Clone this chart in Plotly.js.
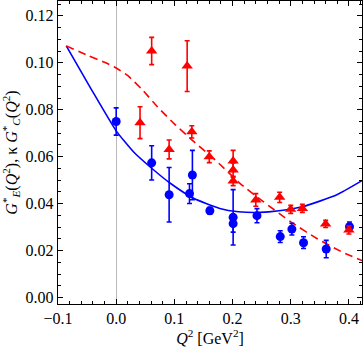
<!DOCTYPE html>
<html><head><meta charset="utf-8">
<script src="https://cdn.plot.ly/plotly-3.0.1.min.js"></script>
<style>html,body{margin:0;padding:0;background:#fff}#chart{width:364px;height:354px}</style>
</head><body><div id="chart"></div>
<script>
// Data
const blueX = [0.0, 0.061, 0.091, 0.126, 0.131, 0.161, 0.201, 0.201, 0.242, 0.282, 0.302, 0.322, 0.361, 0.401];
const blueY = [0.0750, 0.0574, 0.0438, 0.0443, 0.0522, 0.0370, 0.0342, 0.0315, 0.0349, 0.0260, 0.0292, 0.0234, 0.0207, 0.0302];
const blueErr = [0.0058, 0.0073, 0.0116, 0.0042, 0.0105, 0.0015, 0.0118, 0.0036, 0.0030, 0.0025, 0.0025, 0.0025, 0.0037, 0.0020];

const redX = [0.041, 0.061, 0.122, 0.091, 0.130, 0.160, 0.201, 0.201, 0.201, 0.240, 0.281, 0.300, 0.320, 0.360, 0.400];
const redY = [0.0745, 0.1050, 0.0986, 0.0631, 0.0706, 0.0600, 0.0582, 0.0543, 0.0497, 0.0416, 0.0427, 0.0376, 0.0380, 0.0314, 0.0288];
const redErr = [0.0068, 0.0058, 0.0108, 0.0040, 0.0026, 0.0025, 0.0045, 0.0030, 0.0020, 0.0027, 0.0022, 0.0017, 0.0017, 0.0015, 0.0017];

// Model curves
const blueCurveX = [-0.0858, -0.043, 0.0, 0.03, 0.061, 0.093, 0.133, 0.178, 0.21, 0.247, 0.28, 0.3213, 0.3785, 0.4225];
const blueCurveY = [0.1072, 0.0888, 0.0710, 0.0620, 0.0551, 0.0487, 0.0423, 0.0380, 0.0366, 0.0363, 0.0370, 0.0388, 0.0437, 0.0498];
const redCurveX = [-0.0858, -0.0475, -0.02, 0.0, 0.02, 0.045, 0.07, 0.1, 0.13, 0.173, 0.2127, 0.2527, 0.30, 0.344, 0.39, 0.4225];
const redCurveY = [0.1072, 0.1030, 0.1002, 0.0978, 0.0945, 0.0885, 0.0815, 0.0740, 0.0672, 0.0580, 0.0487, 0.0409, 0.0323, 0.0253, 0.0192, 0.0158];

const BLUE = 'rgb(0,0,255)', RED = 'rgb(255,0,0)';
const FAMILY = 'Liberation Serif';
const tickFont = {family: FAMILY, size: 16, color: '#000'};
const titleFont = {family: FAMILY, size: 16, color: '#000'};

const traces = [
  {x: blueCurveX, y: blueCurveY, mode: 'lines', line: {color: BLUE, width: 1.6, shape: 'spline', smoothing: 0.5}, hoverinfo: 'skip'},
  {x: redCurveX, y: redCurveY, mode: 'lines', line: {color: RED, width: 1.6, dash: '8px,5px', shape: 'spline', smoothing: 0.4}, hoverinfo: 'skip'},
  {x: blueX, y: blueY, mode: 'markers', marker: {symbol: 'circle', size: 9, color: BLUE},
   error_y: {type: 'data', array: blueErr, visible: true, color: BLUE, thickness: 1.6, width: 2.5}},
  {x: redX, y: redY, mode: 'markers', marker: {symbol: 'triangle-up', size: 10, color: RED},
   error_y: {type: 'data', array: redErr, visible: true, color: RED, thickness: 1.6, width: 2.5}}
];

const layout = {
  width: 364, height: 354,
  margin: {l: 58, r: 2, t: 1, b: 50},
  paper_bgcolor: '#fff', plot_bgcolor: '#fff',
  showlegend: false,
  font: {family: FAMILY, size: 16, color: '#000'},
  xaxis: {
    showline: true, linecolor: '#000', linewidth: 1.2, mirror: 'allticks',
    ticks: 'inside', ticklen: 5, tickwidth: 1, tickcolor: '#000', showgrid: false,
    tickfont: tickFont,
    range: [-0.1, 0.4225], tickvals: [-0.1, 0, 0.1, 0.2, 0.3, 0.4],
    ticktext: ['\u22120.1', '0.0', '0.1', '0.2', '0.3', '0.4'],
    minor: {dtick: 0.02, tick0: 0, ticks: 'inside', ticklen: 3, tickcolor: '#000', tickwidth: 1, showgrid: false},
    zeroline: true, zerolinecolor: '#bbb', zerolinewidth: 1,
    title: {text: '<i>Q</i><sup>2</sup> [GeV<sup>2</sup>]', font: titleFont, standoff: 6}
  },
  yaxis: {
    showline: true, linecolor: '#000', linewidth: 1.2, mirror: 'allticks',
    ticks: 'inside', ticklen: 5, tickwidth: 1, tickcolor: '#000', showgrid: false,
    tickfont: tickFont,
    range: [-0.0027, 0.1263], tickvals: [0, 0.02, 0.04, 0.06, 0.08, 0.10, 0.12],
    ticktext: ['0.00', '0.02', '0.04', '0.06', '0.08', '0.10', '0.12'],
    minor: {dtick: 0.005, tick0: 0, ticks: 'inside', ticklen: 3, tickcolor: '#000', tickwidth: 1, showgrid: false},
    zeroline: false,
    title: {text: '<i>G</i><sup>*</sup><sub><i>E</i></sub>(<i>Q</i><sup>2</sup>), \u03ba <i>G</i><sup>*</sup><sub><i>C</i></sub>(<i>Q</i><sup>2</sup>)', font: titleFont, standoff: 6}
  }
};

Plotly.newPlot('chart', traces, layout, {staticPlot: true, displayModeBar: false});
</script></body></html>
